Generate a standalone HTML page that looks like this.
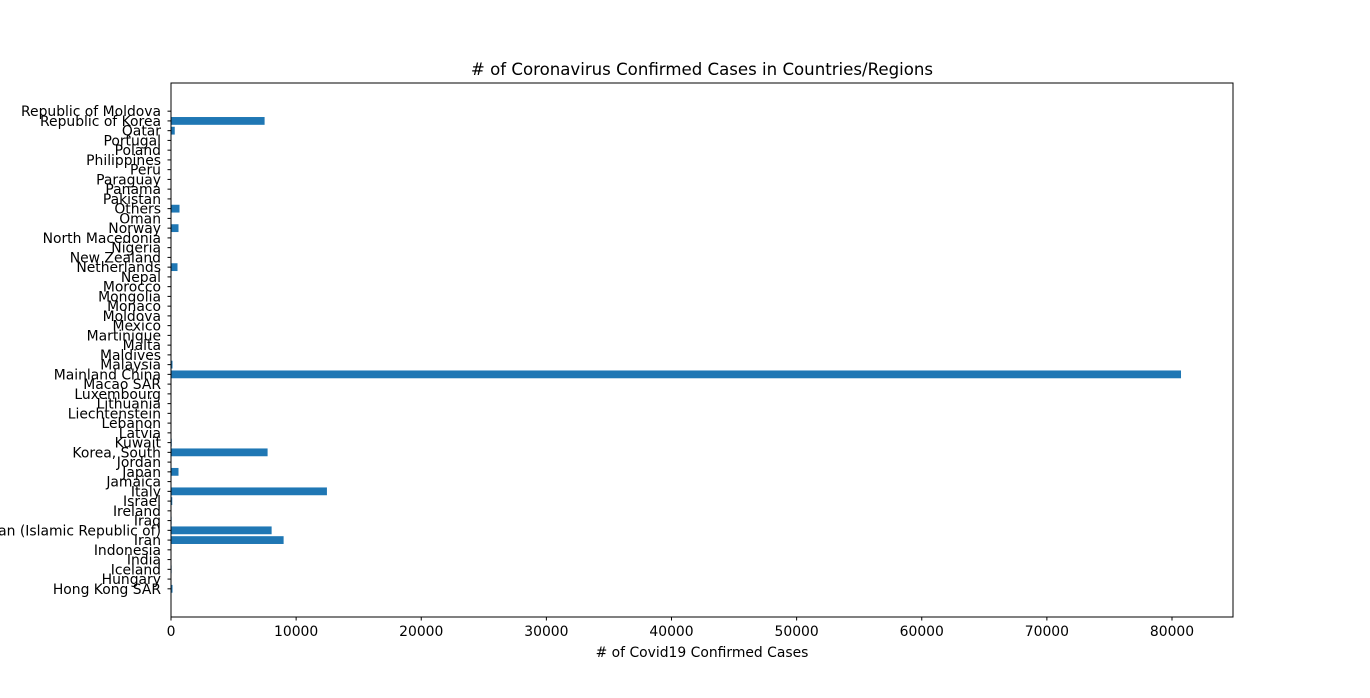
<!DOCTYPE html>
<html><head><meta charset="utf-8"><style>
body{margin:0;background:#fff;font-family:"Liberation Sans","DejaVu Sans",sans-serif;}
svg text{font-family:"DejaVu Sans","Liberation Sans",sans-serif;font-size:13.9px;fill:#000;}
</style></head><body>
<svg id="chart" width="1370" height="693"></svg>
<script>
const categories=["Hong Kong SAR","Hungary","Iceland","India","Indonesia","Iran","Iran (Islamic Republic of)","Iraq","Ireland","Israel","Italy","Jamaica","Japan","Jordan","Korea, South","Kuwait","Latvia","Lebanon","Liechtenstein","Lithuania","Luxembourg","Macao SAR","Mainland China","Malaysia","Maldives","Malta","Martinique","Mexico","Moldova","Monaco","Mongolia","Morocco","Nepal","Netherlands","New Zealand","Nigeria","North Macedonia","Norway","Oman","Others","Pakistan","Panama","Paraguay","Peru","Philippines","Poland","Portugal","Qatar","Republic of Korea","Republic of Moldova"];
const values=[120,30,50,30,2,9000,8042,50,30,100,12462,1,600,1,7720,60,10,40,1,1,3,10,80720,120,8,3,2,7,1,1,1,2,1,520,5,2,7,600,16,680,5,5,1,5,3,5,20,300,7480,1];
const xTicks=[0,10000,20000,30000,40000,50000,60000,70000,80000];
const svg=document.getElementById('chart');
const NS='http://www.w3.org/2000/svg';
const L=171,R=1233,T=83,B=617;
const xMax=84875;
const x=v=>L+v/xMax*(R-L);
const n=categories.length;
const yMin=-0.4-0.05*(n-0.2),yMax=n-1+0.4+0.05*(n-0.2);
const y=v=>B-(v-yMin)/(yMax-yMin)*(B-T);
function el(t,a){const e=document.createElementNS(NS,t);for(const k in a)e.setAttribute(k,a[k]);svg.appendChild(e);return e;}
const title=el('text',{x:(L+R)/2,y:75,'text-anchor':'middle'});
title.textContent='# of Coronavirus Confirmed Cases in Countries/Regions';


title.style.fontSize='16.6px';
categories.forEach((c,i)=>{
  const yc=y(i),h=y(i-0.4)-y(i+0.4);
  const r=el('rect',{x:L,y:yc-h/2,width:Math.max(0,x(values[i])-L),height:h,fill:'#1f77b4'});
  
  
  el('line',{x1:L-3.5,x2:L,y1:yc,y2:yc,stroke:'#000','stroke-width':1});
  const t=el('text',{x:L-10,y:yc+5,'text-anchor':'end'});
  t.textContent=c;
  
  
});
xTicks.forEach(v=>{
  const xx=x(v);
  el('line',{x1:xx,x2:xx,y1:B,y2:B+3.5,stroke:'#000','stroke-width':1});
  const t=el('text',{x:xx,y:B+19,'text-anchor':'middle'});
  t.textContent=String(v);
  
  
});
const frame=el('rect',{x:L,y:T,width:R-L,height:B-T,fill:'none',stroke:'#000','stroke-width':1});


const xl=el('text',{x:(L+R)/2,y:657,'text-anchor':'middle'});
xl.textContent='# of Covid19 Confirmed Cases';


</script>
</body></html>
